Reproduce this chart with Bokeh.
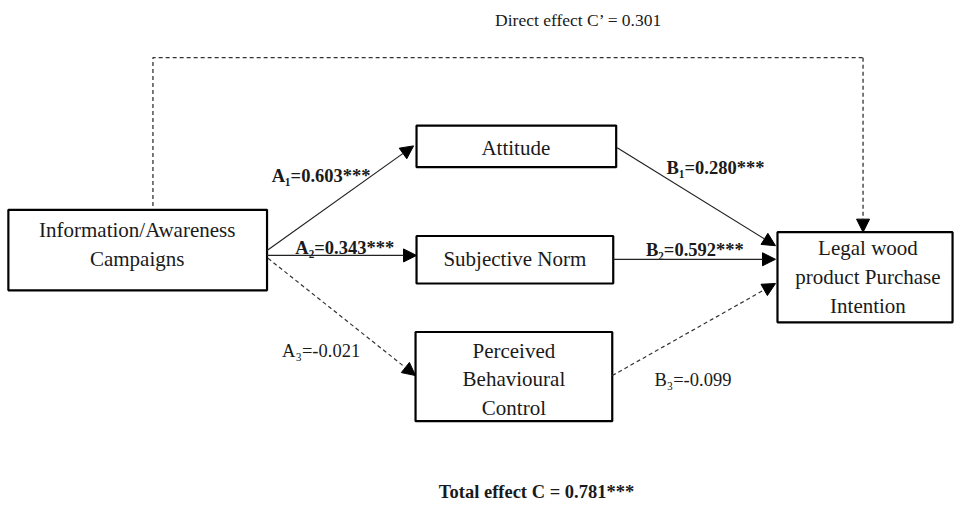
from bokeh.plotting import figure
from bokeh.models import Arrow, NormalHead, Range1d
from bokeh.core.properties import value
from bokeh.embed import file_html
from bokeh.resources import INLINE

# ---- content ----
node_names = [
    "Information/Awareness\nCampaigns",
    "Attitude",
    "Subjective Norm",
    "Perceived\nBehavioural\nControl",
    "Legal wood\nproduct Purchase\nIntention",
]
path_labels = ["A₁=0.603***", "A₂=0.343***", "A₃=-0.021",
               "B₁=0.280***", "B₂=0.592***", "B₃=-0.099"]
path_significant = [True, True, False, True, True, False]
direct_label = "Direct effect C’ = 0.301"
total_label = "Total effect C = 0.781***"

# ---- layout (reference image pixel coordinates) ----
box_left = [8, 423, 423, 422, 790]
box_right = [271, 626, 623, 622, 968]
box_top = [216, 129, 243, 342, 239]
box_bottom = [299, 172, 292, 434, 332]
text_x = [139, 524, 523, 522, 882]
text_y = [252, 152, 267, 391, 285]

arrow_start = [(271, 258), (271, 263), (272, 266), (627, 152), (623, 267), (622, 387)]
arrow_end = [(420, 150), (423, 263), (422, 387), (788, 253), (788, 267), (788, 292)]
label_x = [326, 350, 326, 727, 706, 704]
label_y = [181, 255, 362, 173, 257, 392]

p = figure(width=955, height=504, output_backend="svg", toolbar_location=None,
           x_range=Range1d(0, 971), y_range=Range1d(520, 0),
           min_border=0, outline_line_color=None)
p.axis.visible = False
p.grid.visible = False

FONT = value("Liberation Serif")

# direct effect dashed path
p.line([155, 155, 877], [212, 59, 59], line_color="#333333", line_width=1.3, line_dash="4 3")
p.add_layout(Arrow(x_start=877, y_start=59, x_end=877, y_end=239,
                   line_color="#333333", line_width=1.3, line_dash="4 3",
                   end=NormalHead(size=13, fill_color="black", line_color="black")))

# paths
for (xs, ys), (xe, ye), sig in zip(arrow_start, arrow_end, path_significant):
    p.add_layout(Arrow(x_start=xs, y_start=ys, x_end=xe, y_end=ye,
                       line_color="#222222" if sig else "#333333",
                       line_width=1.2,
                       line_dash="solid" if sig else "4 3",
                       end=NormalHead(size=13, fill_color="black", line_color="black")))

# boxes
p.quad(left=box_left, right=box_right, top=box_top, bottom=box_bottom,
       fill_color="white", line_color="black", line_width=2.2)
p.text(x=text_x, y=text_y, text=node_names, text_font=FONT, text_font_size="21px",
       text_align="center", text_baseline="middle", text_line_height=1.2,
       text_color="#1a1a1a")

# path labels
for lx, ly, lab, sig in zip(label_x, label_y, path_labels, path_significant):
    p.text(x=[lx], y=[ly], text=[lab], text_font=FONT, text_font_size="18.5px",
           text_font_style="bold" if sig else "normal",
           text_align="center", text_baseline="middle", text_color="#1a1a1a")

p.text(x=[588], y=[20], text=[direct_label], text_font=FONT, text_font_size="17.5px",
       text_align="center", text_baseline="middle", text_color="#1a1a1a")
p.text(x=[545], y=[507], text=[total_label], text_font=FONT, text_font_size="18.5px",
       text_font_style="bold", text_align="center", text_baseline="middle",
       text_color="#1a1a1a")

open("out.html", "w").write(file_html(p, INLINE))
